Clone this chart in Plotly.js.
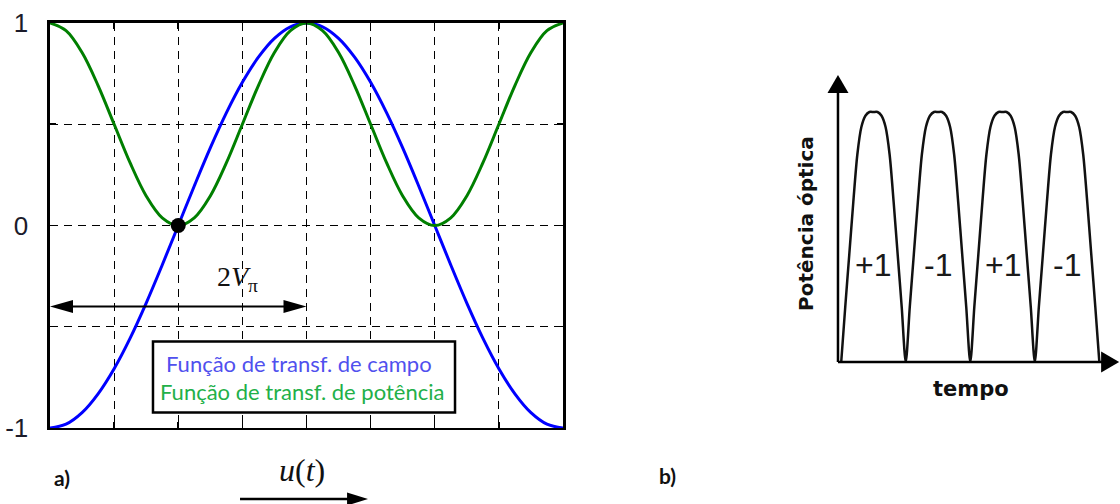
<!DOCTYPE html>
<html>
<head>
<meta charset="utf-8">
<script src="https://cdn.plot.ly/plotly-3.0.1.min.js"></script>
<style>
  html, body { margin: 0; padding: 0; background: #ffffff; }
  #chart { width: 1120px; height: 504px; }
</style>
</head>
<body>
<div id="chart"></div>
<script>
// Panel a): modulator drive u(t), in units of V_pi
const driveVoltage = [0, 0.125, 0.25, 0.375, 0.5, 0.625, 0.75, 0.875, 1, 1.125, 1.25, 1.375, 1.5, 1.625, 1.75, 1.875,
  2, 2.125, 2.25, 2.375, 2.5, 2.625, 2.75, 2.875, 3, 3.125, 3.25, 3.375, 3.5, 3.625, 3.75, 3.875, 4];
// Field transfer function (blue)
const fieldTransfer = [-1, -0.981, -0.924, -0.831, -0.707, -0.556, -0.383, -0.195, 0, 0.195, 0.383, 0.556, 0.707, 0.831, 0.924, 0.981,
  1, 0.981, 0.924, 0.831, 0.707, 0.556, 0.383, 0.195, 0, -0.195, -0.383, -0.556, -0.707, -0.831, -0.924, -0.981, -1];
// Power transfer function (green)
const powerTransfer = [1, 0.962, 0.854, 0.691, 0.5, 0.309, 0.146, 0.038, 0, 0.038, 0.146, 0.309, 0.5, 0.691, 0.854, 0.962,
  1, 0.962, 0.854, 0.691, 0.5, 0.309, 0.146, 0.038, 0, 0.038, 0.146, 0.309, 0.5, 0.691, 0.854, 0.962, 1];
// Bias point
const biasPoint = { x: [1], y: [0] };
// Span of the 2V_pi arrow
const spanStart = 0, spanEnd = 2, spanLevel = -0.4;
const xTicks = [0, 0.5, 1, 1.5, 2, 2.5, 3, 3.5, 4];
const yTicks = [-1, 0, 1];
const yTickText = ['-1', '0', '1'];
const legendLabels = ['Função de transf. de campo', 'Função de transf. de potência'];

// Panel b): optical power vs time (bit slots)
const timeSlots = [
  0, 0.0625, 0.125, 0.1875, 0.25, 0.3125, 0.375, 0.4375, 0.5, 0.5625, 0.625, 0.6875, 0.75, 0.8125, 0.875, 0.9375,
  1, 1.0625, 1.125, 1.1875, 1.25, 1.3125, 1.375, 1.4375, 1.5, 1.5625, 1.625, 1.6875, 1.75, 1.8125, 1.875, 1.9375,
  2, 2.0625, 2.125, 2.1875, 2.25, 2.3125, 2.375, 2.4375, 2.5, 2.5625, 2.625, 2.6875, 2.75, 2.8125, 2.875, 2.9375,
  3, 3.0625, 3.125, 3.1875, 3.25, 3.3125, 3.375, 3.4375, 3.5, 3.5625, 3.625, 3.6875, 3.75, 3.8125, 3.875, 3.9375,
  4];
const opticalPower = [
  0, 0.22, 0.43, 0.64, 0.83, 0.94, 0.985, 1, 1, 1, 0.985, 0.94, 0.83, 0.64, 0.43, 0.22,
  0, 0.22, 0.43, 0.64, 0.83, 0.94, 0.985, 1, 1, 1, 0.985, 0.94, 0.83, 0.64, 0.43, 0.22,
  0, 0.22, 0.43, 0.64, 0.83, 0.94, 0.985, 1, 1, 1, 0.985, 0.94, 0.83, 0.64, 0.43, 0.22,
  0, 0.22, 0.43, 0.64, 0.83, 0.94, 0.985, 1, 1, 1, 0.985, 0.94, 0.83, 0.64, 0.43, 0.22,
  0];
const symbolCenters = [0.5, 1.5, 2.5, 3.5];
const symbolLabels = ['+1', '-1', '+1', '-1'];
const symbolLevel = 0.39;

const traces = [
  { x: driveVoltage, y: fieldTransfer, type: 'scatter', mode: 'lines',
    line: { color: '#0000ff', width: 3, shape: 'spline', smoothing: 1 }, xaxis: 'x', yaxis: 'y' },
  { x: driveVoltage, y: powerTransfer, type: 'scatter', mode: 'lines',
    line: { color: '#007f00', width: 3, shape: 'spline', smoothing: 1 }, xaxis: 'x', yaxis: 'y' },
  { x: biasPoint.x, y: biasPoint.y, type: 'scatter', mode: 'markers',
    marker: { color: '#000000', size: 15 }, cliponaxis: false, xaxis: 'x', yaxis: 'y' },
  { x: timeSlots, y: opticalPower, type: 'scatter', mode: 'lines',
    line: { color: '#111111', width: 2.5, shape: 'spline', smoothing: 0.8 }, xaxis: 'x2', yaxis: 'y2' }
];

const gridAxis = {
  showgrid: true, gridcolor: '#000000', gridwidth: 1.2, griddash: '8px,6px',
  showline: true, linecolor: '#000000', linewidth: 2.5, mirror: 'ticks',
  ticks: 'inside', ticklen: 6, tickwidth: 1.5, tickcolor: '#000000',
  zeroline: false, fixedrange: true
};

// filled triangular arrow head, tip at the anchor
function arrowHead(xref, yref, xa, ya, dir, len, half) {
  let path;
  if (dir === 'right') path = `M0,0 L${-len},${half} L${-len},${-half} Z`;
  else if (dir === 'left') path = `M0,0 L${len},${half} L${len},${-half} Z`;
  else path = `M0,0 L${-half},${-len} L${half},${-len} Z`;
  return { type: 'path', xref, yref, xsizemode: 'pixel', ysizemode: 'pixel',
    xanchor: xa, yanchor: ya, path, fillcolor: '#000000', line: { width: 0 }, layer: 'above' };
}

const shapes = [
  // 2V_pi span arrow
  { type: 'line', xref: 'x', yref: 'y', x0: spanStart + 0.1, x1: spanEnd - 0.1, y0: spanLevel, y1: spanLevel,
    line: { color: '#000000', width: 2 }, layer: 'above' },
  arrowHead('x', 'y', spanStart, spanLevel, 'left', 23, 6.5),
  arrowHead('x', 'y', spanEnd, spanLevel, 'right', 23, 6.5),
  // legend frame
  { type: 'rect', xref: 'x', yref: 'y', x0: 0.803, x1: 3.158, y0: -0.923, y1: -0.573,
    fillcolor: '#ffffff', line: { color: '#000000', width: 2.5 }, layer: 'above' },
  // u(t) direction arrow
  { type: 'line', xref: 'paper', yref: 'paper', x0: 0.2143, x1: 0.318, y0: 0.0099, y1: 0.0099,
    line: { color: '#000000', width: 2.5 } },
  arrowHead('paper', 'paper', 0.3286, 0.0099, 'right', 21, 6.5),
  // panel b) axes with arrows
  { type: 'line', xref: 'x2 domain', yref: 'y2 domain', x0: 0, x1: 0, y0: 0, y1: 0.95,
    line: { color: '#000000', width: 2.5 }, layer: 'above' },
  arrowHead('x2 domain', 'y2 domain', 0, 1, 'up', 18, 10.5),
  { type: 'line', xref: 'x2 domain', yref: 'y2 domain', x0: 0, x1: 0.96, y0: 0, y1: 0,
    line: { color: '#000000', width: 2.5 }, layer: 'above' },
  arrowHead('x2 domain', 'y2 domain', 0.997, 0, 'right', 18, 10.5)
];

const mid = { xanchor: 'center', yanchor: 'middle', showarrow: false };
const annotations = [
  Object.assign({ xref: 'x', yref: 'y', x: 1.46, y: -0.26,
    text: '2<i>V</i><sub>π</sub>', font: { family: 'Liberation Serif, DejaVu Serif, serif', size: 28, color: '#111111' } }, mid),
  { xref: 'x', yref: 'y', x: 0.89, y: -0.68, xanchor: 'left', yanchor: 'middle', showarrow: false,
    text: legendLabels[0], font: { family: 'Lato, Open Sans, sans-serif', size: 22, color: '#5050ee' } },
  { xref: 'x', yref: 'y', x: 0.84, y: -0.82, xanchor: 'left', yanchor: 'middle', showarrow: false,
    text: legendLabels[1], font: { family: 'Lato, Open Sans, sans-serif', size: 22, color: '#22b048' } },
  Object.assign({ xref: 'paper', yref: 'paper', x: 0.0554, y: 0.0516,
    text: '<b>a)</b>', font: { family: 'Lato, Open Sans, sans-serif', size: 21, color: '#111111' } }, mid),
  Object.assign({ xref: 'paper', yref: 'paper', x: 0.2696, y: 0.0675,
    text: '<i>u</i>(<i>t</i>)', font: { family: 'Liberation Serif, DejaVu Serif, serif', size: 32, color: '#111111' } }, mid),
  Object.assign({ xref: 'paper', yref: 'paper', x: 0.5964, y: 0.0575,
    text: '<b>b)</b>', font: { family: 'Lato, Open Sans, sans-serif', size: 21, color: '#111111' } }, mid),
  Object.assign({ xref: 'paper', yref: 'paper', x: 0.7196, y: 0.5575, textangle: -90,
    text: '<b>Potência óptica</b>', font: { family: 'DejaVu Sans, sans-serif', size: 20, color: '#111111' } }, mid),
  Object.assign({ xref: 'paper', yref: 'paper', x: 0.867, y: 0.2282,
    text: '<b>tempo</b>', font: { family: 'DejaVu Sans, sans-serif', size: 21, color: '#111111' } }, mid)
];
symbolCenters.forEach((c, i) => {
  annotations.push(Object.assign({ xref: 'x2', yref: 'y2', x: c, y: symbolLevel,
    text: symbolLabels[i], font: { family: 'Liberation Sans, Arial, sans-serif', size: 32, color: '#1a1a1a' } }, mid));
});

const layout = {
  width: 1120, height: 504,
  margin: { l: 0, r: 0, t: 0, b: 0 },
  paper_bgcolor: '#ffffff', plot_bgcolor: '#ffffff',
  showlegend: false,
  xaxis: Object.assign({}, gridAxis, {
    domain: [0.04464, 0.50268], range: [0, 4], tickvals: xTicks, showticklabels: false
  }),
  yaxis: Object.assign({}, gridAxis, {
    domain: [0.1508, 0.9544], range: [-1, 1], tickvals: yTicks, ticktext: yTickText,
    ticklabelstandoff: 14,
    tickfont: { family: 'Liberation Sans, Arial, sans-serif', size: 26, color: '#1b1b2a' },
    minor: { dtick: 0.5, tick0: 0, showgrid: true, gridcolor: '#000000', gridwidth: 1.2, griddash: '8px,6px',
      ticks: 'inside', ticklen: 6, tickwidth: 1.5, tickcolor: '#000000' }
  }),
  xaxis2: { domain: [0.7482, 1], range: [-0.05, 4.32], visible: false, fixedrange: true, anchor: 'y2' },
  yaxis2: { domain: [0.2817, 0.8512], range: [0, 1.148], visible: false, fixedrange: true, anchor: 'x2' },
  shapes, annotations
};

Plotly.newPlot('chart', traces, layout, { staticPlot: true, displayModeBar: false });
</script>
</body>
</html>
